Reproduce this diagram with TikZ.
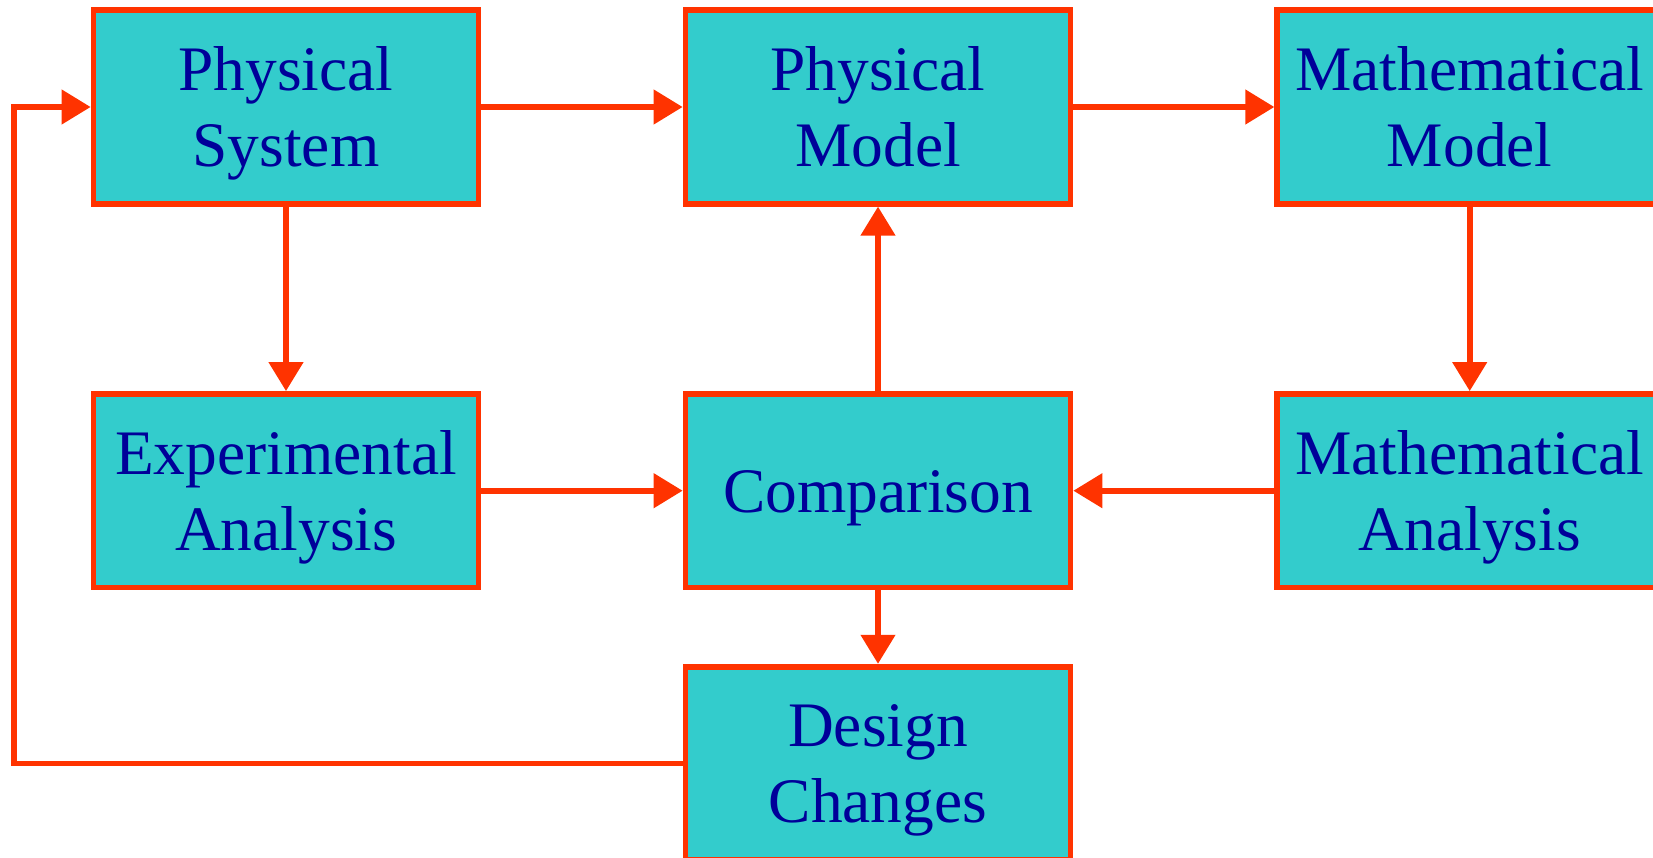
\documentclass[tikz,border=0pt]{standalone}
\usepackage{fontspec}
\setmainfont{Liberation Serif}
\usetikzlibrary{arrows.meta}
\definecolor{boxfill}{HTML}{33CCCC}
\definecolor{boxline}{HTML}{FF3300}
\definecolor{boxtext}{HTML}{000099}
\newcommand\stt{\rule[-0.216em]{0pt}{1.107em}}
\tikzset{
  blk/.style={draw=boxline, fill=boxfill, line width=2.85pt, text=boxtext,
    minimum width=192.5pt, minimum height=96.75pt, inner sep=0pt,
    align=center, font=\fontsize{31.7}{38}\selectfont},
  conn/.style={draw=boxline, line width=2.85pt, line join=miter,
    -{Triangle[length=14.5pt,width=16.8pt]}},
}
\begin{document}
\begin{tikzpicture}[x=0.5pt,y=-0.5pt]
\useasboundingbox (0,0) rectangle (1653,857);
\clip (0,0) rectangle (1653,857);
\node[blk] (ps) at (286,107) {\stt Physical\\\stt System};
\node[blk] (pm) at (878,107) {\stt Physical\\\stt Model};
\node[blk] (mm) at (1469.7,107) {\stt Mathematical\\\stt Model};
\node[blk] (ea) at (286,490.7) {\stt Experimental\\\stt Analysis};
\node[blk] (cmp) at (878,490.7) {\stt Comparison};
\node[blk] (ma) at (1469.7,490.7) {\stt Mathematical\\\stt Analysis};
\node[blk] (dc) at (878,763.4) {\stt Design\\\stt Changes};
\coordinate (fb) at (14,400);
\draw[conn] (ps) -- (pm);
\draw[conn] (pm) -- (mm);
\draw[conn] (ps) -- (ea);
\draw[conn] (mm) -- (ma);
\draw[conn] (ea) -- (cmp);
\draw[conn] (ma) -- (cmp);
\draw[conn] (cmp) -- (pm);
\draw[conn] (cmp) -- (dc);
\draw[conn] (dc.west) -- (dc.west -| fb) -- (ps.west -| fb) -- (ps.west);
\end{tikzpicture}
\end{document}
